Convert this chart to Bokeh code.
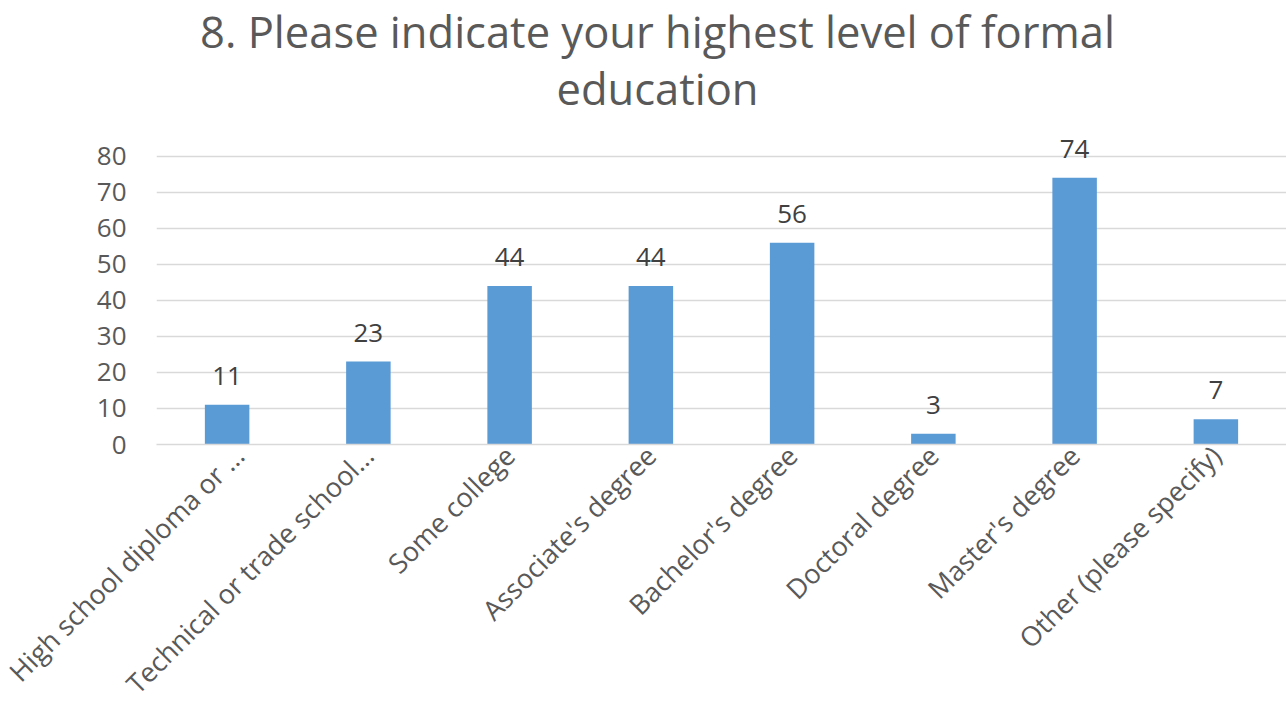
from bokeh.plotting import figure
from bokeh.models import (ColumnDataSource, LabelSet, Label, FactorRange, FixedTicker,
                          Range1d)
from bokeh.core.properties import value
from bokeh.embed import file_html
from bokeh.resources import INLINE
from math import pi

categories = ["High school diploma or …", "Technical or trade school…", "Some college",
              "Associate's degree", "Bachelor's degree", "Doctoral degree",
              "Master's degree", "Other (please specify)"]
values = [11, 23, 44, 44, 56, 3, 74, 7]
y_ticks = [0, 10, 20, 30, 40, 50, 60, 70, 80]
title_lines = ["8. Please indicate your highest level of formal", "education"]

FONT = "Open Sans"
src = ColumnDataSource(dict(cat=categories, val=values, lbl=[str(v) for v in values]))

# the frame reaches the top of the page so that the title can sit inside it;
# only 0..80 is ticked and gridded
p = figure(width=1286, height=717, x_range=FactorRange(*categories, range_padding=0),
           y_range=Range1d(0, 123.2), output_backend="svg", toolbar_location=None,
           min_border_left=156, min_border_right=0, min_border_bottom=271, min_border_top=0)
p.outline_line_color = None
p.background_fill_color = "white"
p.border_fill_color = "white"

p.vbar(x="cat", top="val", width=0.315, source=src, fill_color="#5B9BD5", line_color=None)

labels = LabelSet(x="cat", y="val", text="lbl", source=src, text_align="center",
                  text_baseline="alphabetic", y_offset=20, text_font=value(FONT),
                  text_font_size="26px", text_color="#404040")
p.add_layout(labels)

p.yaxis.ticker = FixedTicker(ticks=y_ticks)
p.yaxis.axis_line_color = None
p.yaxis.major_tick_line_color = None
p.yaxis.minor_tick_line_color = None
p.yaxis.major_label_text_font = FONT
p.yaxis.major_label_text_font_size = "26px"
p.yaxis.major_label_text_color = "#595959"
p.yaxis.major_label_standoff = 24

p.xaxis.axis_line_color = "#D9D9D9"
p.xaxis.axis_line_width = 1.5
p.xaxis.major_tick_line_color = None
p.xaxis.minor_tick_line_color = None
p.xaxis.major_label_orientation = pi / 4
p.xaxis.major_label_text_font = FONT
p.xaxis.major_label_text_font_size = "27px"
p.xaxis.major_label_text_color = "#595959"
p.xaxis.major_label_standoff = 0

p.xgrid.grid_line_color = None
p.ygrid.grid_line_color = "#D9D9D9"
p.ygrid.grid_line_width = 1.5

# title lines, in screen pixels measured from the frame's bottom-left corner
for txt, ypix in zip(title_lines, [413, 356]):
    p.add_layout(Label(x=501, y=ypix, x_units="screen", y_units="screen", text=txt,
                       text_align="center", text_baseline="alphabetic",
                       text_font=FONT, text_font_size="43.5px", text_color="#595959"))

open("out.html", "w").write(file_html(p, INLINE))
